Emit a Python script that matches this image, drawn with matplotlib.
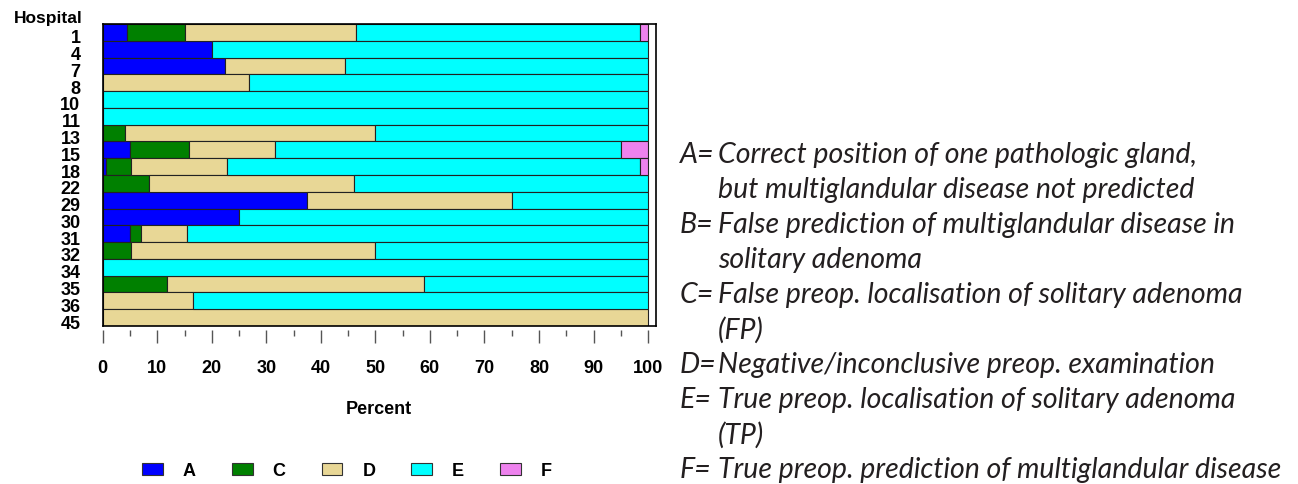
import numpy as np
import matplotlib.pyplot as plt
import matplotlib.transforms as mtransforms
from matplotlib.patches import Patch

# hospitals, top to bottom
hospitals = ['1', '4', '7', '8', '10', '11', '13', '15', '18',
             '22', '29', '30', '31', '32', '34', '35', '36', '45']

# percent of cases per category
A = [4.4, 20.0, 22.4, 0, 0, 0, 0, 5.0, 0.6, 0, 37.5, 25.0, 5.0, 0, 0, 0, 0, 0]
C = [10.6, 0, 0, 0, 0, 0, 4.0, 10.8, 4.5, 8.4, 0, 0, 2.0, 5.1, 0, 11.8, 0, 0]
D = [31.4, 0, 22.1, 26.8, 0, 0, 46.0, 15.8, 17.7, 37.6, 37.5, 0, 8.4, 44.9, 0, 47.1, 16.5, 100]
E = [52.2, 80.0, 55.5, 73.2, 100, 100, 50.0, 63.4, 75.8, 54.0, 25.0, 75.0, 84.6, 50.0, 100, 41.1, 83.5, 0]
F = [1.4, 0, 0, 0, 0, 0, 0, 5.0, 1.4, 0, 0, 0, 0, 0, 0, 0, 0, 0]

series = {'A': A, 'C': C, 'D': D, 'E': E, 'F': F}
colors = {'A': '#0000FF', 'C': '#008000', 'D': '#E8D796', 'E': '#00FFFF', 'F': '#EE82EE'}

x_ticks = list(range(0, 101, 10))

legend_lines = [
    ('A=', 'Correct position of one pathologic gland,'),
    ('', 'but multiglandular disease not predicted'),
    ('B=', 'False prediction of multiglandular disease in'),
    ('', 'solitary adenoma'),
    ('C=', 'False preop. localisation of solitary adenoma'),
    ('', '(FP)'),
    ('D=', 'Negative/inconclusive preop. examination'),
    ('E=', 'True preop. localisation of solitary adenoma'),
    ('', '(TP)'),
    ('F=', 'True preop. prediction of multiglandular disease'),
]

plt.rcParams['font.family'] = ['Liberation Sans', 'DejaVu Sans']

fig = plt.figure(figsize=(12.98, 4.85), dpi=100)
W, H = 1298, 485
ax = fig.add_axes([102.7 / W, 1 - 327 / H, (655.7 - 102.7) / W, (327 - 25) / H])

# ticks sit slightly below the frame (set first: moving the spine resets ticks)
ax.spines['bottom'].set_position(('outward', 3))
ax.spines['bottom'].set_visible(False)
ax.plot([0, 1], [0, 0], transform=ax.transAxes, color='black', lw=1.2, clip_on=False)
for s in ['top', 'left', 'right']:
    ax.spines[s].set_linewidth(1.2)

y = np.arange(len(hospitals))
left = np.zeros(len(hospitals))
for name, vals in series.items():
    vals = np.array(vals, dtype=float)
    m = vals > 0
    ax.barh(y[m], vals[m], left=left[m], height=1.0, color=colors[name],
            edgecolor='#222222', linewidth=0.8)
    left += vals

ax.set_xlim(0, 101.4)
ax.set_ylim(len(hospitals) - 0.5, -0.5)
ax.set_yticks(y, hospitals, fontsize=13, fontweight='bold')
ax.tick_params(axis='y', length=0, pad=16)
# hospital numbers sit a little below the bar centres
shift = mtransforms.ScaledTranslation(0, -2.5 / 72, fig.dpi_scale_trans)
for lab in ax.get_yticklabels():
    lab.set_transform(lab.get_transform() + shift)

ax.set_xticks(x_ticks, [str(t) for t in x_ticks], fontsize=13, fontweight='bold')
ax.set_xticks(np.arange(5, 100, 10), minor=True)
ax.tick_params(axis='x', which='major', length=9, width=1, color='#555555', pad=12)
ax.tick_params(axis='x', which='minor', length=4.5, width=1, color='#555555')

ax.set_xlabel('Percent', fontsize=13, fontweight='bold', labelpad=17)
fig.text(83 / W, 1 - 19 / H, 'Hospital', ha='right', va='center',
         fontsize=12.5, fontweight='bold')

handles = [Patch(facecolor=colors[k], edgecolor='#333333', linewidth=0.8) for k in series]
fig.legend(handles, list(series.keys()), loc='center', ncol=5, frameon=False,
           bbox_to_anchor=(347 / W, 1 - 472 / H), handlelength=1.15,
           handleheight=0.6, handletextpad=1.1, columnspacing=2.0,
           prop={'weight': 'bold', 'size': 13})

# category descriptions on the right
for i, (pre, body) in enumerate(legend_lines):
    yy = 1 - (155 + 35 * i) / H
    if pre:
        fig.text(680 / W, yy, pre, ha='left', va='center', fontsize=20.5,
                 family='Lato', style='italic', color='#231f20')
    fig.text(718 / W, yy, body, ha='left', va='center', fontsize=20.5,
             family='Lato', style='italic', color='#231f20')

fig.savefig('out.png', dpi=100)
